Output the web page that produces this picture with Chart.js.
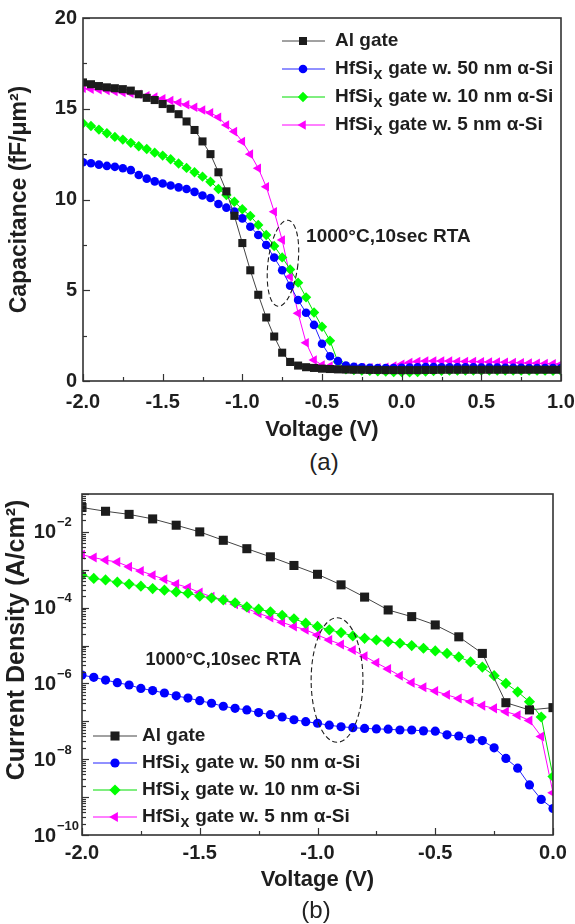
<!DOCTYPE html>
<html><head><meta charset="utf-8">
<script src="https://cdn.jsdelivr.net/npm/chart.js@4.4.1/dist/chart.umd.min.js"></script>
<style>
html,body{margin:0;padding:0;background:#fff;}
#page{position:relative;width:575px;height:924px;overflow:hidden;background:#fff;}
.box{position:absolute;left:0;width:575px;}
.cap{position:absolute;width:100px;text-align:center;font:24px "Liberation Sans",Arial,sans-serif;color:#222;line-height:28px;}
</style></head><body>
<div id="page">
<div class="box" style="top:0;height:447px"><canvas id="ca"></canvas></div>
<div class="cap" style="left:274px;top:448px">(a)</div>
<div class="box" style="top:470px;height:427px"><canvas id="cb"></canvas></div>
<div class="cap" style="left:266px;top:896px">(b)</div>
</div>
<script>
const FONT = '"Liberation Sans", Arial, Helvetica, sans-serif';

// ---------- DATA: panel (a) C-V ----------
const voltageA = [-2.0,-1.95,-1.9,-1.85,-1.8,-1.75,-1.7,-1.65,-1.6,-1.55,-1.5,-1.45,-1.4,-1.35,-1.3,-1.25,-1.2,-1.15,-1.1,-1.05,-1.0,-0.95,-0.9,-0.85,-0.8,-0.75,-0.7,-0.65,-0.6,-0.55,-0.5,-0.45,-0.4,-0.35,-0.3,-0.25,-0.2,-0.15,-0.1,-0.05,0.0,0.05,0.1,0.15,0.2,0.25,0.3,0.35,0.4,0.45,0.5,0.55,0.6,0.65,0.7,0.75,0.8,0.85,0.9,0.95,1.0];
const alGateC = [16.45,16.35,16.25,16.18,16.13,16.08,16.0,15.8,15.6,15.48,15.26,15.0,14.7,14.3,13.83,13.2,12.5,11.5,10.45,9.1,7.6,6.1,4.75,3.5,2.45,1.56,1.05,0.85,0.76,0.72,0.68,0.66,0.64,0.63,0.62,0.62,0.61,0.61,0.6,0.6,0.6,0.6,0.6,0.61,0.61,0.62,0.62,0.62,0.62,0.62,0.62,0.62,0.62,0.62,0.62,0.62,0.62,0.62,0.62,0.62,0.62];
const hf50C = [12.05,12.0,11.92,11.85,11.8,11.72,11.62,11.35,11.15,11.0,10.88,10.77,10.67,10.58,10.42,10.22,10.08,9.75,9.55,9.33,8.96,8.5,8.04,7.49,6.8,6.1,5.25,4.46,3.76,3.09,2.05,1.36,1.1,0.85,0.78,0.75,0.73,0.72,0.72,0.72,0.73,0.74,0.76,0.77,0.77,0.76,0.76,0.75,0.75,0.75,0.74,0.74,0.74,0.73,0.73,0.73,0.72,0.72,0.72,0.72,0.72];
const hf10C = [14.2,14.05,13.85,13.65,13.45,13.3,13.12,12.93,12.78,12.58,12.42,12.22,11.98,11.74,11.5,11.26,10.98,10.58,10.25,9.88,9.46,9.09,8.6,8.04,7.44,6.81,6.15,5.42,4.61,3.77,2.99,2.22,1.06,0.64,0.6,0.58,0.56,0.54,0.52,0.5,0.5,0.48,0.5,0.52,0.55,0.56,0.57,0.57,0.58,0.58,0.58,0.58,0.58,0.58,0.58,0.57,0.57,0.57,0.57,0.56,0.56];
const hf5C = [16.13,16.08,16.05,16.0,15.95,15.9,15.85,15.8,15.72,15.64,15.55,15.45,15.34,15.22,15.08,14.93,14.78,14.53,14.1,13.74,13.19,12.5,11.72,10.7,9.33,7.77,5.75,3.73,2.11,1.16,0.88,0.82,0.8,0.77,0.75,0.74,0.73,0.73,0.75,0.82,0.92,1.02,1.08,1.1,1.1,1.1,1.1,1.08,1.08,1.07,1.06,1.05,1.04,1.03,1.02,1.0,0.99,0.98,0.96,0.95,0.93];

// ---------- DATA: panel (b) J-V ----------
const voltageAl = [-2.0,-1.9,-1.8,-1.7,-1.6,-1.5,-1.4,-1.3,-1.2,-1.1,-1.0,-0.9,-0.8,-0.7,-0.6,-0.5,-0.4,-0.3,-0.2,-0.1,0.0];
const alGateJ = [4.4e-2,3.5e-2,2.9e-2,2.2e-2,1.5e-2,1.0e-2,6.0e-3,3.6e-3,2.2e-3,1.3e-3,7.6e-4,4.0e-4,1.9e-4,8.7e-5,5.8e-5,3.5e-5,1.7e-5,6.2e-6,3.1e-7,2.0e-7,2.3e-7];
const voltageB = [-2.0,-1.95,-1.9,-1.85,-1.8,-1.75,-1.7,-1.65,-1.6,-1.55,-1.5,-1.45,-1.4,-1.35,-1.3,-1.25,-1.2,-1.15,-1.1,-1.05,-1.0,-0.95,-0.9,-0.85,-0.8,-0.75,-0.7,-0.65,-0.6,-0.55,-0.5,-0.45,-0.4,-0.35,-0.3,-0.25,-0.2,-0.15,-0.1,-0.05,0.0];
const hf50J = [1.66e-6,1.45e-6,1.23e-6,1.05e-6,9.1e-7,7.4e-7,6.5e-7,5.6e-7,4.7e-7,4.1e-7,3.5e-7,3.0e-7,2.5e-7,2.2e-7,2.0e-7,1.7e-7,1.5e-7,1.3e-7,1.1e-7,9.8e-8,8.9e-8,7.9e-8,7.2e-8,6.8e-8,6.5e-8,6.3e-8,6.2e-8,5.9e-8,5.9e-8,5.6e-8,5.5e-8,4.4e-8,4.1e-8,3.4e-8,3.1e-8,2.0e-8,1.05e-8,5.8e-9,2.1e-9,8.7e-10,5.0e-10];
const hf10J = [7.2e-4,5.9e-4,5.4e-4,4.7e-4,4.2e-4,3.7e-4,3.2e-4,2.9e-4,2.6e-4,2.4e-4,2.0e-4,1.8e-4,1.6e-4,1.35e-4,1.05e-4,9.1e-5,7.8e-5,6.3e-5,5.1e-5,3.9e-5,3.2e-5,2.6e-5,2.2e-5,1.8e-5,1.55e-5,1.4e-5,1.26e-5,1.15e-5,1.0e-5,8.5e-6,7.2e-6,6.2e-6,5.0e-6,3.7e-6,2.7e-6,1.6e-6,1.0e-6,6.0e-7,3.3e-7,1.3e-7,3.5e-9];
const hf5J = [2.5e-3,2.1e-3,1.8e-3,1.6e-3,1.2e-3,9.3e-4,7.2e-4,5.6e-4,4.2e-4,3.4e-4,2.5e-4,1.95e-4,1.6e-4,1.23e-4,9.5e-5,7.1e-5,5.5e-5,4.1e-5,3.2e-5,2.6e-5,1.9e-5,1.4e-5,1.07e-5,7.6e-6,5.2e-6,3.5e-6,2.4e-6,1.6e-6,1.05e-6,7.9e-7,6.3e-7,5.0e-7,4.0e-7,3.3e-7,2.6e-7,2.2e-7,1.8e-7,1.45e-7,1.05e-7,4.0e-8,1.3e-9];

// ---------- LABELS ----------
const seriesNames = ['Al gate','HfSi_x gate w. 50 nm \u03b1-Si','HfSi_x gate w. 10 nm \u03b1-Si','HfSi_x gate w. 5 nm \u03b1-Si'];
const xTitle = 'Voltage (V)';
const yTitleA = 'Capacitance (fF/\u03bcm\u00b2)';
const yTitleB = 'Current Density (A/cm\u00b2)';
const noteText = '1000\u00b0C,10sec RTA';
const logLabelExps = [-10,-8,-6,-4,-2];

// ---------- STYLES ----------
const styles = [
  {color:'#1c1c1c', line:'#444444', pointStyle:'rect', rotation:0},
  {color:'#0000ff', line:'#2222ff', pointStyle:'circle', rotation:0},
  {color:'#00ff00', line:'#00dd00', pointStyle:'rectRot', rotation:0},
  {color:'#ff00ff', line:'#ff00ff', pointStyle:'triangle', rotation:-90}
];
const radiiA = [5.7, 4.3, 5.2, 5.5];
const radiiB = [6.4, 4.6, 5.6, 5.8];

function pts(xs, ys){ return xs.map((x,i)=>({x:x, y:ys[i]})); }
function makeDatasets(xsList, ysList, radii){
  return ysList.map((ys,i)=>({
    label: seriesNames[i],
    data: pts(xsList[i], ys),
    showLine: true,
    borderColor: styles[i].line,
    borderWidth: 1,
    backgroundColor: styles[i].color,
    pointBackgroundColor: styles[i].color,
    pointBorderColor: styles[i].color,
    pointBorderWidth: 0,
    pointStyle: styles[i].pointStyle,
    pointRotation: styles[i].rotation,
    pointRadius: radii[i],
    pointHoverRadius: radii[i],
    tension: 0,
    clip: 0
  }));
}

function drawRich(ctx, text, x, y, size){
  const parts = text.split('_x');
  ctx.textBaseline = 'middle'; ctx.textAlign = 'left';
  ctx.font = 'bold ' + size + 'px ' + FONT;
  ctx.fillText(parts[0], x, y);
  x += ctx.measureText(parts[0]).width;
  if (parts.length > 1){
    const ss = Math.round(size*0.82);
    ctx.font = 'bold ' + ss + 'px ' + FONT;
    ctx.fillText('x', x + 0.5, y + size*0.32);
    x += ctx.measureText('x').width + 1;
    ctx.font = 'bold ' + size + 'px ' + FONT;
    ctx.fillText(parts[1], x, y);
  }
}

const decor = {
  id: 'decor',
  afterDraw(chart, args, o){
    const ctx = chart.ctx, a = chart.chartArea;
    const xs = chart.scales.x, ys = chart.scales.y;
    ctx.save();
    ctx.fillStyle = '#1e1e1e'; ctx.strokeStyle = '#1e1e1e';
    if (o.ellipse){
      const e = o.ellipse;
      const px = xs.getPixelForValue(e.x);
      const pt = ys.getPixelForValue(e.yTop), pb = ys.getPixelForValue(e.yBottom);
      const rx = Math.abs(xs.getPixelForValue(e.x + e.rx) - px);
      ctx.beginPath();
      ctx.setLineDash([5,3]); ctx.lineWidth = 1.1;
      ctx.ellipse(px, (pt+pb)/2, rx, Math.abs(pb-pt)/2, e.rot || 0, 0, Math.PI*2);
      ctx.stroke(); ctx.setLineDash([]);
    }
    if (o.note){
      const n = o.note;
      ctx.font = 'bold ' + n.size + 'px ' + FONT;
      ctx.textAlign = 'left'; ctx.textBaseline = 'middle';
      ctx.fillText(noteText, xs.getPixelForValue(n.x), ys.getPixelForValue(n.y));
    }
    if (o.legend){
      const L = o.legend;
      chart.data.datasets.forEach((ds, i)=>{
        const y = L.rows[i];
        ctx.beginPath(); ctx.lineWidth = 1; ctx.strokeStyle = ds.borderColor;
        ctx.moveTo(L.x0, y); ctx.lineTo(L.x1, y); ctx.stroke();
        ctx.fillStyle = ds.pointBackgroundColor;
        Chart.helpers.drawPoint(ctx, {pointStyle: ds.pointStyle, rotation: ds.pointRotation, radius: ds.pointRadius, borderWidth: 0}, L.xm, y);
        ctx.fillStyle = '#1e1e1e';
        drawRich(ctx, ds.label, L.xt, y, L.size);
      });
    }
    if (o.yTitle){
      const t = o.yTitle;
      ctx.save();
      ctx.translate(t.x, t.y); ctx.rotate(-Math.PI/2);
      ctx.font = 'bold ' + t.size + 'px ' + FONT;
      ctx.fillStyle = '#1e1e1e'; ctx.textAlign = 'center'; ctx.textBaseline = 'middle';
      ctx.fillText(t.text, 0, 0);
      ctx.restore();
    }
    ctx.strokeStyle = '#333'; ctx.lineWidth = 1.6;
    ctx.strokeRect(a.left, a.top, a.right - a.left, a.bottom - a.top);
    ctx.lineWidth = 1.2; ctx.strokeStyle = '#333';
    const tx = o.xt;
    for (let k = 0; ; k++){
      const v = xs.min + k*tx.minor;
      if (v > xs.max + 1e-9) break;
      const r = v / tx.major, maj = Math.abs(r - Math.round(r)) < 1e-6;
      const p = Math.round(xs.getPixelForValue(v)) + 0.5;
      ctx.beginPath(); ctx.moveTo(p, a.bottom); ctx.lineTo(p, a.bottom - (maj ? 7 : 4)); ctx.stroke();
    }
    if (o.yt.log){
      for (let e = -10; e <= -1; e++){
        const p = Math.round(ys.getPixelForValue(Math.pow(10, e))) + 0.5;
        ctx.beginPath(); ctx.moveTo(a.left, p); ctx.lineTo(a.left + 7, p); ctx.stroke();
        if (e < -1){
          for (let m = 2; m <= 9; m++){
            const q = Math.round(ys.getPixelForValue(m*Math.pow(10, e))) + 0.5;
            ctx.beginPath(); ctx.moveTo(a.left, q); ctx.lineTo(a.left + 4, q); ctx.stroke();
          }
        }
      }
      ctx.fillStyle = '#1e1e1e';
      logLabelExps.forEach(e=>{
        const p = ys.getPixelForValue(Math.pow(10, e));
        ctx.textBaseline = 'middle';
        ctx.font = 'bold 20px ' + FONT; ctx.textAlign = 'right';
        ctx.fillText('10', o.yt.baseRight, p + 1);
        ctx.font = 'bold 13px ' + FONT; ctx.textAlign = 'left';
        ctx.fillText(String(e).replace('-', '\u2212'), o.yt.baseRight + 1, p - 9);
      });
    } else {
      const ty = o.yt;
      for (let k = 0; ; k++){
        const v = ys.min + k*ty.minor;
        if (v > ys.max + 1e-9) break;
        const r = v / ty.major, maj = Math.abs(r - Math.round(r)) < 1e-6;
        const p = Math.round(ys.getPixelForValue(v)) + 0.5;
        ctx.beginPath(); ctx.moveTo(a.left, p); ctx.lineTo(a.left + (maj ? 7 : 4), p); ctx.stroke();
      }
    }
    ctx.restore();
  }
};

const tickFont = {family: FONT, size: 20, weight: 'bold'};
const titleFont = {family: FONT, size: 22, weight: 'bold'};
const noGrid = {display: false, drawTicks: false};
function zeroPad(s){ s.paddingLeft = 0; s.paddingRight = 0; s.paddingTop = 0; s.paddingBottom = 0; }

// ---------- Chart (a) ----------
new Chart(document.getElementById('ca'), {
  type: 'scatter',
  data: { datasets: makeDatasets([voltageA, voltageA, voltageA, voltageA], [alGateC, hf50C, hf10C, hf5C], radiiA) },
  options: {
    responsive: true, maintainAspectRatio: false, animation: false, devicePixelRatio: 1,
    layout: { padding: {top: 18, right: 14, left: 0, bottom: 0} },
    plugins: {
      legend: {display: false}, tooltip: {enabled: false},
      decor: {
        ellipse: {x: -0.745, yTop: 8.87, yBottom: 4.1, rx: 0.094, rot: 0.12},
        note: {x: -0.6, y: 7.95, size: 19},
        legend: {x0: 282, x1: 325, xm: 303, xt: 335, rows: [41, 69, 97, 125], size: 19},
        xt: {major: 0.5, minor: 0.25},
        yt: {log: false, major: 5, minor: 2.5}
      }
    },
    scales: {
      x: {
        type: 'linear', min: -2, max: 1,
        afterFit: s => { s.height = 66; zeroPad(s); },
        ticks: {stepSize: 0.5, callback: v => Number(v).toFixed(1), font: tickFont, color: '#1e1e1e', padding: 9, maxRotation: 0, autoSkip: false},
        grid: noGrid, border: {display: false},
        title: {display: true, text: xTitle, font: titleFont, color: '#1e1e1e', padding: {top: 0, bottom: 4}}
      },
      y: {
        type: 'linear', min: 0, max: 20,
        afterFit: s => { s.width = 83; zeroPad(s); },
        ticks: {stepSize: 5, font: tickFont, color: '#1e1e1e', padding: 6},
        grid: noGrid, border: {display: false},
        title: {display: true, text: yTitleA, font: {family: FONT, size: 23, weight: 'bold'}, color: '#1e1e1e', padding: {top: 6, bottom: 0}}
      }
    }
  },
  plugins: [decor]
});

// ---------- Chart (b) ----------
new Chart(document.getElementById('cb'), {
  type: 'scatter',
  data: { datasets: makeDatasets([voltageAl, voltageB, voltageB, voltageB], [alGateJ, hf50J, hf10J, hf5J], radiiB) },
  options: {
    responsive: true, maintainAspectRatio: false, animation: false, devicePixelRatio: 1,
    layout: { padding: {top: 24, right: 22, left: 0, bottom: 0} },
    plugins: {
      legend: {display: false}, tooltip: {enabled: false},
      decor: {
        ellipse: {x: -0.917, yTop: 5.4e-5, yBottom: 2.8e-8, rx: 0.11, rot: 0},
        note: {x: -1.73, y: 4.2e-6, size: 18},
        legend: {x0: 93, x1: 137, xm: 115, xt: 142, rows: [266, 293, 320, 347], size: 19},
        yTitle: {text: yTitleB, x: 17, y: 170, size: 25},
        xt: {major: 0.5, minor: 0.25},
        yt: {log: true, baseRight: 56}
      }
    },
    scales: {
      x: {
        type: 'linear', min: -2, max: 0,
        afterFit: s => { s.height = 62; zeroPad(s); },
        ticks: {stepSize: 0.5, callback: v => Number(v).toFixed(1), font: tickFont, color: '#1e1e1e', padding: 6, maxRotation: 0, autoSkip: false},
        grid: noGrid, border: {display: false},
        title: {display: true, text: xTitle, font: titleFont, color: '#1e1e1e', padding: {top: 0, bottom: 4}}
      },
      y: {
        type: 'logarithmic', min: 1e-10, max: 1e-1,
        afterFit: s => { s.width = 82; zeroPad(s); },
        ticks: {display: false},
        grid: noGrid, border: {display: false},
        title: {display: false}
      }
    }
  },
  plugins: [decor]
});
</script>
</body></html>
